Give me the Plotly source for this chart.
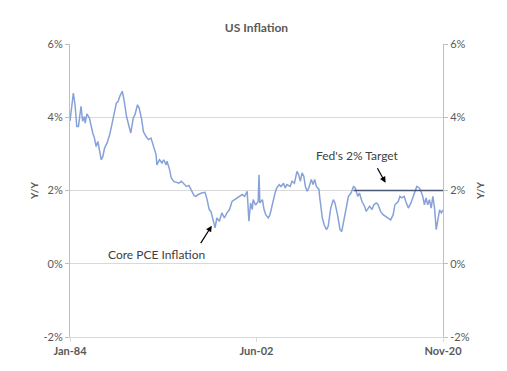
import pandas as pd
import plotly.graph_objects as go

# Core PCE inflation, Y/Y % (months since Jan-1984, value)
pce_month_offset = [
    0, 2, 4, 6, 8, 10, 13, 15, 17, 18, 20, 23, 25, 27, 29, 31, 33, 35, 37, 39,
    41, 44, 47, 50, 53, 55, 57, 59, 62, 64, 67, 70, 72, 75, 77, 80, 82, 85, 87, 90,
    93, 96, 98, 100, 102, 103, 106, 109, 111, 114, 115, 118, 120, 123, 126, 129, 132, 135, 138, 141,
    144, 147, 149, 152, 156, 160, 162, 165, 167, 170, 172, 174, 177, 180, 183, 186, 189, 192, 195, 198,
    200, 204, 207, 210, 212, 214, 216, 217, 220, 223, 224, 225, 228, 230, 232, 235, 237, 240, 243, 245,
    248, 250, 253, 255, 257, 261, 263, 266, 269, 271, 273, 275, 277, 279, 281, 283, 286, 288, 290, 292,
    295, 296, 299, 301, 304, 306, 309, 312, 314, 317, 320, 322, 325, 328, 330, 333, 336, 338, 341, 343,
    346, 349, 351, 355, 358, 360, 363, 365, 368, 371, 374, 377, 380, 383, 385, 389, 391, 393, 396, 398,
    401, 404, 406, 409, 411, 414, 416, 418, 420, 422, 424, 426, 428, 430, 432, 434, 436, 438, 440, 442,
]
pce_value = [
    3.90, 4.35, 4.66, 4.34, 3.75, 3.75, 4.30, 3.89, 4.02, 3.84, 4.09, 3.98, 3.71, 3.57, 3.43, 3.20, 3.34, 3.11, 2.84, 2.93,
    3.16, 3.30, 3.52, 3.84, 4.16, 4.39, 4.43, 4.57, 4.71, 4.48, 4.02, 3.75, 3.57, 3.98, 4.07, 4.34, 4.25, 3.93, 3.61, 3.48,
    3.39, 3.43, 3.30, 3.11, 2.98, 2.70, 2.84, 2.75, 2.84, 2.70, 2.80, 2.57, 2.34, 2.25, 2.23, 2.20, 2.25, 2.18, 2.11, 2.14,
    2.00, 1.86, 1.84, 1.89, 1.93, 1.95, 1.80, 1.48, 1.43, 1.20, 0.98, 1.25, 1.16, 1.39, 1.25, 1.39, 1.48, 1.70, 1.75, 1.80,
    1.84, 1.89, 1.84, 1.98, 1.16, 1.66, 1.48, 1.75, 1.60, 1.70, 2.43, 1.66, 1.75, 1.48, 1.34, 1.25, 1.34, 1.66, 1.93, 2.07,
    2.16, 2.11, 2.20, 2.07, 2.16, 2.11, 2.25, 2.20, 2.52, 2.43, 2.25, 2.48, 2.39, 2.11, 1.98, 2.07, 2.30, 2.16, 2.30, 2.11,
    2.03, 1.80, 1.25, 1.07, 0.93, 1.02, 1.52, 1.75, 1.66, 1.34, 0.93, 0.88, 1.25, 1.52, 1.84, 1.93, 2.11, 2.07, 1.84, 1.93,
    1.70, 1.57, 1.43, 1.57, 1.48, 1.61, 1.66, 1.62, 1.43, 1.34, 1.29, 1.25, 1.20, 1.34, 1.61, 1.70, 1.84, 1.80, 1.84, 1.70,
    1.52, 1.66, 1.80, 2.02, 2.11, 2.07, 1.98, 1.84, 1.61, 1.80, 1.61, 1.75, 1.52, 1.84, 1.52, 0.93, 1.25, 1.47, 1.39, 1.47,
]

# Fed's 2% target line
target_dates = ["2012-01-01", "2020-11-01"]
target_values = [2, 2]

# Axis ticks
x_tick_dates = ["1984-01-01", "2002-06-01", "2020-11-01"]
x_tick_labels = ["Jan-84", "Jun-02", "Nov-20"]
y_tick_values = [-2, 0, 2, 4, 6]
y_tick_labels = ["-2%", "0%", "2%", "4%", "6%"]

start = pd.Timestamp("1984-01-01")
pce_dates = [start + pd.DateOffset(months=m) for m in pce_month_offset]

FONT = "Lato"
TXT = "#595959"

fig = go.Figure()
fig.add_trace(go.Scatter(x=pce_dates, y=pce_value, mode="lines",
                         line=dict(color="#86a2d8", width=1.5), showlegend=False))
fig.add_trace(go.Scatter(x=target_dates, y=target_values, mode="lines",
                         line=dict(color="#4a5873", width=1.5), showlegend=False))
# invisible trace to activate the right axis
fig.add_trace(go.Scatter(x=target_dates, y=target_values, mode="lines", yaxis="y2",
                         line=dict(width=0), hoverinfo="skip", showlegend=False, opacity=0))

# the page body adds an 8px margin, so the figure is sized to fit inside it
fig.update_layout(
    width=499, height=363,
    margin=dict(l=62, r=64, t=36, b=34),
    paper_bgcolor="white", plot_bgcolor="white",
    font=dict(family=FONT, color=TXT, size=11),
    title=dict(text="<b>US Inflation</b>", x=0.5, xref="paper", xanchor="center",
               y=0.946, yanchor="middle",
               font=dict(size=12, color=TXT, family=FONT)),
    xaxis=dict(type="date", range=["1984-01-01", "2020-11-01"],
               tickvals=x_tick_dates, ticktext=[f"<b>{t}</b>" for t in x_tick_labels],
               showgrid=False, showline=True, linecolor="#d9d9d9", linewidth=1,
               ticks="outside", ticklen=4, tickcolor="#d9d9d9", zeroline=False,
               tickfont=dict(size=11, color=TXT)),
    yaxis=dict(range=[-2, 6], tickvals=y_tick_values, ticktext=y_tick_labels,
               showgrid=True, gridcolor="#d9d9d9", gridwidth=1,
               showline=True, linecolor="#bfbfbf", linewidth=1, zeroline=False,
               ticks="outside", ticklen=4, tickcolor="#bfbfbf",
               tickfont=dict(size=11, color=TXT),
               title=dict(text="<b>Y/Y</b>", standoff=3, font=dict(size=10, color=TXT))),
    yaxis2=dict(range=[-2, 6], tickvals=y_tick_values, ticktext=y_tick_labels,
                overlaying="y", side="right", showgrid=False, zeroline=False,
                showline=True, linecolor="#bfbfbf", linewidth=1,
                ticks="outside", ticklen=4, tickcolor="#bfbfbf",
                tickfont=dict(size=11, color=TXT),
                title=dict(text="<b>Y/Y</b>", standoff=8, font=dict(size=10, color=TXT))),
)

# Annotations
fig.add_annotation(xref="paper", yref="paper", x=0.233, y=0.283, text="Core PCE Inflation",
                   xanchor="center", yanchor="middle",
                   showarrow=False, font=dict(size=12, color="#404040"))
fig.add_annotation(x="1998-01-01", y=1.04, xref="x", yref="y", text="",
                   showarrow=True, arrowhead=2, arrowsize=1, arrowwidth=1.2, arrowcolor="black",
                   ax=-12, ay=19)
fig.add_annotation(xref="paper", yref="paper", x=0.772, y=0.618, text="Fed's 2% Target",
                   xanchor="center", yanchor="middle",
                   showarrow=False, font=dict(size=12, color="#404040"))
fig.add_annotation(x="2015-03-01", y=2.21, xref="x", yref="y", text="",
                   showarrow=True, arrowhead=2, arrowsize=1, arrowwidth=1.2, arrowcolor="black",
                   ax=-9, ay=-16)

fig.write_html("out.html")
